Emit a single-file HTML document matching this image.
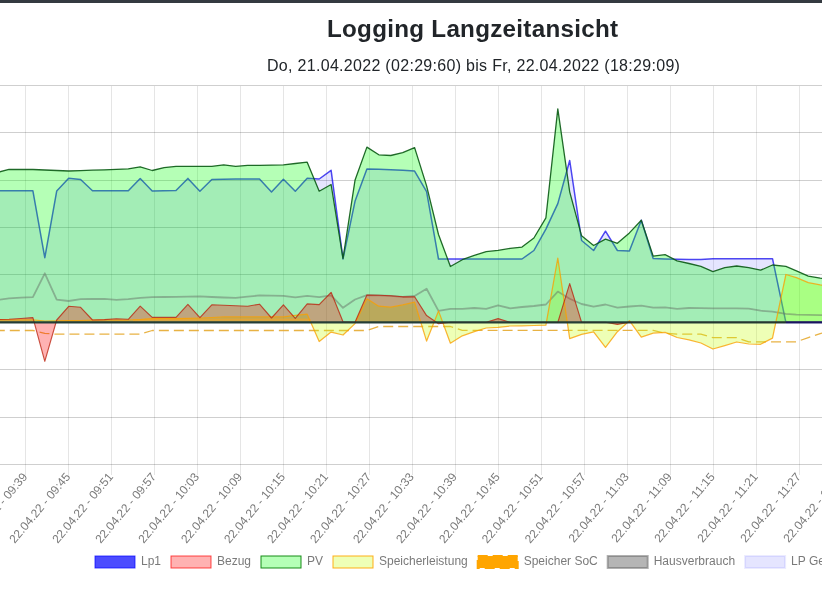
<!DOCTYPE html>
<html><head><meta charset="utf-8"><title>Logging Langzeitansicht</title>
<style>
html,body{margin:0;padding:0;background:#fff;overflow:hidden;}
body{width:822px;height:596px;position:relative;font-family:"Liberation Sans",sans-serif;}
#topbar{position:absolute;left:0;top:0;width:822px;height:3px;background:#343a40;}
#title{position:absolute;left:327px;top:14.5px;font-size:24.2px;font-weight:bold;letter-spacing:0.28px;color:#212529;white-space:nowrap;line-height:28px;}
#sub{position:absolute;left:266.8px;top:56.6px;font-size:16px;letter-spacing:0.3px;color:#212529;white-space:nowrap;line-height:18px;}
svg{position:absolute;left:0;top:0;will-change:transform;}
#title,#sub{will-change:transform;}
</style></head><body>
<div id="topbar"></div>
<div id="title">Logging Langzeitansicht</div>
<div id="sub">Do, 21.04.2022 (02:29:60) bis Fr, 22.04.2022 (18:29:09)</div>
<svg width="822" height="596" viewBox="0 0 822 596">
<g stroke="rgba(0,0,0,0.1)" stroke-width="1" shape-rendering="crispEdges">
<line x1="0" x2="822" y1="85.5" y2="85.5" stroke="rgba(0,0,0,0.19)"/>
<line x1="0" x2="822" y1="132.5" y2="132.5" stroke="rgba(0,0,0,0.19)"/>
<line x1="0" x2="822" y1="180.5" y2="180.5" stroke="rgba(0,0,0,0.19)"/>
<line x1="0" x2="822" y1="227.5" y2="227.5" stroke="rgba(0,0,0,0.19)"/>
<line x1="0" x2="822" y1="274.5" y2="274.5" stroke="rgba(0,0,0,0.19)"/>
<line x1="0" x2="822" y1="322.5" y2="322.5" stroke="rgba(0,0,0,0.19)"/>
<line x1="0" x2="822" y1="369.5" y2="369.5" stroke="rgba(0,0,0,0.19)"/>
<line x1="0" x2="822" y1="417.5" y2="417.5" stroke="rgba(0,0,0,0.19)"/>
<line x1="0" x2="822" y1="464.5" y2="464.5" stroke="rgba(0,0,0,0.19)"/>
<line x1="-17.5" x2="-17.5" y1="85.5" y2="474.5"/>
<line x1="25.5" x2="25.5" y1="85.5" y2="474.5"/>
<line x1="68.5" x2="68.5" y1="85.5" y2="474.5"/>
<line x1="111.4" x2="111.4" y1="85.5" y2="474.5"/>
<line x1="154.4" x2="154.4" y1="85.5" y2="474.5"/>
<line x1="197.4" x2="197.4" y1="85.5" y2="474.5"/>
<line x1="240.3" x2="240.3" y1="85.5" y2="474.5"/>
<line x1="283.3" x2="283.3" y1="85.5" y2="474.5"/>
<line x1="326.3" x2="326.3" y1="85.5" y2="474.5"/>
<line x1="369.3" x2="369.3" y1="85.5" y2="474.5"/>
<line x1="412.2" x2="412.2" y1="85.5" y2="474.5"/>
<line x1="455.2" x2="455.2" y1="85.5" y2="474.5"/>
<line x1="498.2" x2="498.2" y1="85.5" y2="474.5"/>
<line x1="541.1" x2="541.1" y1="85.5" y2="474.5"/>
<line x1="584.1" x2="584.1" y1="85.5" y2="474.5"/>
<line x1="627.1" x2="627.1" y1="85.5" y2="474.5"/>
<line x1="670.0" x2="670.0" y1="85.5" y2="474.5"/>
<line x1="713.0" x2="713.0" y1="85.5" y2="474.5"/>
<line x1="756.0" x2="756.0" y1="85.5" y2="474.5"/>
<line x1="799.0" x2="799.0" y1="85.5" y2="474.5"/>
<line x1="841.9" x2="841.9" y1="85.5" y2="474.5"/>
</g>
<g fill="none" stroke-linejoin="round">
<polygon points="-2.9,322.3 -2.9,190.8 9.0,190.8 20.9,190.8 32.9,190.8 44.8,257.7 56.7,191.1 68.7,178.2 80.6,179.5 92.5,190.8 104.4,190.8 116.4,190.8 128.3,190.8 140.2,178.5 152.2,191.1 164.1,190.8 176.0,190.6 187.9,178.4 199.9,191.3 211.8,179.5 223.7,179.3 235.7,179.1 247.6,178.9 259.5,178.9 271.5,192.0 283.4,179.2 295.3,191.2 307.2,178.3 319.2,179.0 331.1,170.3 343.0,258.9 355.0,201.3 366.9,168.9 378.8,169.3 390.8,169.7 402.7,170.3 414.6,171.1 426.6,191.7 438.5,259.0 450.4,259.0 462.3,259.0 474.3,259.0 486.2,259.0 498.1,259.0 510.1,259.0 522.0,259.0 533.9,250.5 545.9,229.1 557.8,203.6 569.7,160.5 581.6,240.5 593.6,250.5 605.5,231.2 617.4,250.5 629.4,251.0 641.3,220.3 653.2,258.6 665.1,258.9 677.1,259.2 689.0,259.5 700.9,259.5 712.9,258.7 724.8,258.7 736.7,258.7 748.7,258.7 760.6,258.7 772.5,258.7 785.9,322.3 796.4,322.3 808.3,322.3 820.2,322.3 832.2,322.3 832.2,322.3" fill="rgba(0,0,255,0.1)"/>
<polyline points="-2.9,190.8 9.0,190.8 20.9,190.8 32.9,190.8 44.8,257.7 56.7,191.1 68.7,178.2 80.6,179.5 92.5,190.8 104.4,190.8 116.4,190.8 128.3,190.8 140.2,178.5 152.2,191.1 164.1,190.8 176.0,190.6 187.9,178.4 199.9,191.3 211.8,179.5 223.7,179.3 235.7,179.1 247.6,178.9 259.5,178.9 271.5,192.0 283.4,179.2 295.3,191.2 307.2,178.3 319.2,179.0 331.1,170.3 343.0,258.9 355.0,201.3 366.9,168.9 378.8,169.3 390.8,169.7 402.7,170.3 414.6,171.1 426.6,191.7 438.5,259.0 450.4,259.0 462.3,259.0 474.3,259.0 486.2,259.0 498.1,259.0 510.1,259.0 522.0,259.0 533.9,250.5 545.9,229.1 557.8,203.6 569.7,160.5 581.6,240.5 593.6,250.5 605.5,231.2 617.4,250.5 629.4,251.0 641.3,220.3 653.2,258.6 665.1,258.9 677.1,259.2 689.0,259.5 700.9,259.5 712.9,258.7 724.8,258.7 736.7,258.7 748.7,258.7 760.6,258.7 772.5,258.7 785.9,322.3 796.4,322.3 808.3,322.3 820.2,322.3 832.2,322.3" stroke="rgba(10,0,235,0.72)" stroke-width="1.5"/>
<polyline points="-2.9,330.5 9.0,330.5 20.9,330.5 32.9,330.5 44.8,333.4 56.7,334.2 68.7,334.2 80.6,334.2 92.5,334.2 104.4,334.2 116.4,334.2 128.3,334.2 140.2,334.2 152.2,330.5 164.1,330.5 176.0,330.5 187.9,330.5 199.9,330.5 211.8,330.5 223.7,330.5 235.7,330.5 247.6,330.5 259.5,330.5 271.5,330.5 283.4,330.5 295.3,330.5 307.2,330.5 319.2,330.5 331.1,330.5 343.0,330.5 355.0,330.5 366.9,330.5 378.8,326.5 390.8,326.5 402.7,326.5 414.6,326.5 426.6,326.5 438.5,326.5 450.4,326.5 462.3,330.4 474.3,330.4 486.2,330.4 498.1,330.4 510.1,330.4 522.0,330.4 533.9,330.4 545.9,330.4 557.8,330.4 569.7,330.4 581.6,330.4 593.6,330.4 605.5,330.4 617.4,330.4 629.4,330.4 641.3,330.4 653.2,330.4 665.1,333.2 677.1,334.2 689.0,334.2 700.9,334.2 712.9,337.6 724.8,337.6 736.7,337.6 748.7,341.8 760.6,341.8 772.5,341.8 785.9,341.8 796.4,341.8 808.3,337.6 820.2,333.6 832.2,330.0" stroke="rgba(228,165,35,0.85)" stroke-width="1.3" stroke-dasharray="10 5" stroke-dashoffset="2.3"/>
<polygon points="-2.9,322.3 -2.9,320.0 9.0,319.9 20.9,319.9 32.9,319.9 44.8,321.0 56.7,320.8 68.7,320.5 80.6,320.5 92.5,320.2 104.4,320.0 116.4,320.0 128.3,320.0 140.2,319.5 152.2,318.6 164.1,318.5 176.0,318.5 187.9,318.3 199.9,318.0 211.8,317.5 223.7,316.9 235.7,316.9 247.6,316.9 259.5,316.9 271.5,316.9 283.4,316.9 295.3,315.3 307.2,314.2 319.2,341.5 331.1,332.1 343.0,335.0 355.0,323.6 366.9,298.8 378.8,306.2 390.8,307.2 402.7,304.9 414.6,302.2 426.6,341.1 438.5,310.9 450.4,343.2 462.3,335.8 474.3,331.7 486.2,328.0 498.1,327.4 510.1,326.0 522.0,325.8 533.9,325.5 545.9,325.2 557.8,258.1 569.7,338.6 581.6,334.4 593.6,331.9 605.5,347.4 617.4,331.7 629.4,320.7 641.3,337.1 653.2,333.1 665.1,332.4 677.1,337.5 689.0,339.8 700.9,343.0 712.9,349.0 724.8,345.6 736.7,342.0 748.7,344.0 760.6,344.3 772.5,338.1 785.9,274.5 796.4,277.7 808.3,282.7 820.2,284.9 832.2,286.0 832.2,322.3" fill="rgba(200,255,13,0.3)"/>
<polygon points="-2.9,322.3 -2.9,172.5 9.0,169.3 20.9,169.5 32.9,169.5 44.8,170.0 56.7,170.5 68.7,171.0 80.6,170.6 92.5,170.2 104.4,169.8 116.4,169.3 128.3,168.8 140.2,166.8 152.2,170.5 164.1,167.6 176.0,166.3 187.9,166.3 199.9,166.3 211.8,166.3 223.7,164.8 235.7,166.3 247.6,165.4 259.5,165.3 271.5,165.1 283.4,164.9 295.3,163.5 307.2,162.2 319.2,191.2 331.1,184.5 343.0,258.5 355.0,180.3 366.9,147.1 378.8,154.8 390.8,155.5 402.7,152.7 414.6,147.6 426.6,185.9 438.5,234.5 450.4,266.5 462.3,259.7 474.3,255.4 486.2,251.7 498.1,250.4 510.1,248.4 522.0,247.1 533.9,238.0 545.9,217.8 557.8,108.9 569.7,191.8 581.6,235.8 593.6,245.5 605.5,239.1 617.4,243.3 629.4,232.9 641.3,220.3 653.2,256.1 665.1,254.7 677.1,260.8 689.0,263.5 700.9,266.4 712.9,271.7 724.8,267.7 736.7,266.0 748.7,267.7 760.6,270.2 772.5,265.0 785.9,266.4 796.4,270.8 808.3,276.1 820.2,278.2 832.2,279.5 832.2,322.3" fill="rgba(10,255,13,0.3)"/>
<polyline points="-2.9,300.0 9.0,298.3 20.9,297.6 32.9,297.2 44.8,273.3 56.7,299.6 68.7,301.0 80.6,299.2 92.5,299.0 104.4,298.8 116.4,299.8 128.3,299.2 140.2,297.9 152.2,297.2 164.1,297.0 176.0,296.8 187.9,296.6 199.9,296.4 211.8,297.0 223.7,297.5 235.7,297.9 247.6,296.7 259.5,295.4 271.5,295.6 283.4,295.8 295.3,297.4 307.2,295.8 319.2,297.2 331.1,295.4 343.0,307.8 355.0,299.5 366.9,295.1 378.8,295.3 390.8,295.9 402.7,296.8 414.6,296.0 426.6,288.8 438.5,310.9 450.4,308.9 462.3,308.9 474.3,308.0 486.2,308.9 498.1,305.3 510.1,308.3 522.0,307.0 533.9,306.0 545.9,304.5 557.8,291.6 569.7,298.7 581.6,304.0 593.6,306.7 605.5,304.5 617.4,307.6 629.4,306.5 641.3,305.6 653.2,307.6 665.1,307.3 677.1,308.9 689.0,308.0 700.9,308.2 712.9,308.3 724.8,308.3 736.7,308.4 748.7,308.7 760.6,310.7 772.5,311.7 785.9,313.8 796.4,314.6 808.3,314.9 820.2,315.1 832.2,315.3" stroke="rgba(100,110,100,0.48)" stroke-width="1.8"/>
<polygon points="-2.9,322.3 -2.9,319.6 9.0,319.2 20.9,318.5 32.9,317.6 44.8,361.3 56.7,320.0 68.7,306.3 80.6,307.3 92.5,320.0 104.4,319.6 116.4,318.7 128.3,319.3 140.2,306.2 152.2,317.3 164.1,317.3 176.0,317.3 187.9,304.4 199.9,317.6 211.8,304.8 223.7,305.3 235.7,305.8 247.6,306.2 259.5,304.2 271.5,318.0 283.4,304.8 295.3,318.3 307.2,303.9 319.2,304.6 331.1,292.3 343.0,321.8 355.0,322.3 366.9,295.0 378.8,295.2 390.8,295.8 402.7,296.8 414.6,296.8 426.6,315.6 438.5,323.7 450.4,322.3 462.3,322.3 474.3,322.3 486.2,322.3 498.1,318.6 510.1,322.3 522.0,322.3 533.9,322.3 545.9,322.3 557.8,322.3 569.7,283.6 581.6,322.3 593.6,322.3 605.5,322.3 617.4,324.4 629.4,322.3 641.3,322.3 653.2,322.3 665.1,322.3 677.1,322.3 689.0,322.3 700.9,322.3 712.9,322.3 724.8,322.3 736.7,322.3 748.7,322.3 760.6,322.3 772.5,322.3 785.9,322.3 796.4,322.3 808.3,322.3 820.2,322.3 832.2,322.3 832.2,322.3" fill="rgba(255,0,0,0.3)"/>
<polyline points="133.1,320.5 147.4,319.7 307.2,319.7 310.2,320.6" stroke="rgba(232,165,50,0.85)" stroke-width="2.2"/>
<polyline points="-2.9,320.0 9.0,319.9 20.9,319.9 32.9,319.9 44.8,321.0 56.7,320.8 68.7,320.5 80.6,320.5 92.5,320.2 104.4,320.0 116.4,320.0 128.3,320.0 140.2,319.5 152.2,318.6 164.1,318.5 176.0,318.5 187.9,318.3 199.9,318.0 211.8,317.5 223.7,316.9 235.7,316.9 247.6,316.9 259.5,316.9 271.5,316.9 283.4,316.9 295.3,315.3 307.2,314.2 319.2,341.5 331.1,332.1 343.0,335.0 355.0,323.6 366.9,298.8 378.8,306.2 390.8,307.2 402.7,304.9 414.6,302.2 426.6,341.1 438.5,310.9 450.4,343.2 462.3,335.8 474.3,331.7 486.2,328.0 498.1,327.4 510.1,326.0 522.0,325.8 533.9,325.5 545.9,325.2 557.8,258.1 569.7,338.6 581.6,334.4 593.6,331.9 605.5,347.4 617.4,331.7 629.4,320.7 641.3,337.1 653.2,333.1 665.1,332.4 677.1,337.5 689.0,339.8 700.9,343.0 712.9,349.0 724.8,345.6 736.7,342.0 748.7,344.0 760.6,344.3 772.5,338.1 785.9,274.5 796.4,277.7 808.3,282.7 820.2,284.9 832.2,286.0" stroke="rgba(250,160,0,0.78)" stroke-width="1.25"/>
<polyline points="-2.9,172.5 9.0,169.3 20.9,169.5 32.9,169.5 44.8,170.0 56.7,170.5 68.7,171.0 80.6,170.6 92.5,170.2 104.4,169.8 116.4,169.3 128.3,168.8 140.2,166.8 152.2,170.5 164.1,167.6 176.0,166.3 187.9,166.3 199.9,166.3 211.8,166.3 223.7,164.8 235.7,166.3 247.6,165.4 259.5,165.3 271.5,165.1 283.4,164.9 295.3,163.5 307.2,162.2 319.2,191.2 331.1,184.5 343.0,258.5 355.0,180.3 366.9,147.1 378.8,154.8 390.8,155.5 402.7,152.7 414.6,147.6 426.6,185.9 438.5,234.5 450.4,266.5 462.3,259.7 474.3,255.4 486.2,251.7 498.1,250.4 510.1,248.4 522.0,247.1 533.9,238.0 545.9,217.8 557.8,108.9 569.7,191.8 581.6,235.8 593.6,245.5 605.5,239.1 617.4,243.3 629.4,232.9 641.3,220.3 653.2,256.1 665.1,254.7 677.1,260.8 689.0,263.5 700.9,266.4 712.9,271.7 724.8,267.7 736.7,266.0 748.7,267.7 760.6,270.2 772.5,265.0 785.9,266.4 796.4,270.8 808.3,276.1 820.2,278.2 832.2,279.5" stroke="rgba(10,90,20,0.9)" stroke-width="1.3"/>
<polyline points="-2.9,319.6 9.0,319.2 20.9,318.5 32.9,317.6 44.8,361.3 56.7,320.0 68.7,306.3 80.6,307.3 92.5,320.0 104.4,319.6 116.4,318.7 128.3,319.3 140.2,306.2 152.2,317.3 164.1,317.3 176.0,317.3 187.9,304.4 199.9,317.6 211.8,304.8 223.7,305.3 235.7,305.8 247.6,306.2 259.5,304.2 271.5,318.0 283.4,304.8 295.3,318.3 307.2,303.9 319.2,304.6 331.1,292.3 343.0,321.8 355.0,322.3 366.9,295.0 378.8,295.2 390.8,295.8 402.7,296.8 414.6,296.8 426.6,315.6 438.5,323.7 450.4,322.3 462.3,322.3 474.3,322.3 486.2,322.3 498.1,318.6 510.1,322.3 522.0,322.3 533.9,322.3 545.9,322.3 557.8,322.3 569.7,283.6 581.6,322.3 593.6,322.3 605.5,322.3 617.4,324.4 629.4,322.3 641.3,322.3 653.2,322.3 665.1,322.3 677.1,322.3 689.0,322.3 700.9,322.3 712.9,322.3 724.8,322.3 736.7,322.3 748.7,322.3 760.6,322.3 772.5,322.3 785.9,322.3 796.4,322.3 808.3,322.3 820.2,322.3 832.2,322.3" stroke="rgba(185,30,10,0.75)" stroke-width="1.15"/>
<line x1="0" x2="785.9" y1="322.40000000000003" y2="322.40000000000003" stroke="rgba(28,55,50,0.95)" stroke-width="2.4"/>
<line x1="785.9" x2="822" y1="322.40000000000003" y2="322.40000000000003" stroke="rgba(20,20,100,0.95)" stroke-width="2.4"/>
</g>
<g font-size="12" fill="#7a7a7a" font-family="Liberation Sans, sans-serif">
<text transform="translate(-17.5,475) rotate(-50)" text-anchor="end" dominant-baseline="middle">22.04.22 - 09:33</text>
<text transform="translate(25.5,475) rotate(-50)" text-anchor="end" dominant-baseline="middle">22.04.22 - 09:39</text>
<text transform="translate(68.5,475) rotate(-50)" text-anchor="end" dominant-baseline="middle">22.04.22 - 09:45</text>
<text transform="translate(111.4,475) rotate(-50)" text-anchor="end" dominant-baseline="middle">22.04.22 - 09:51</text>
<text transform="translate(154.4,475) rotate(-50)" text-anchor="end" dominant-baseline="middle">22.04.22 - 09:57</text>
<text transform="translate(197.4,475) rotate(-50)" text-anchor="end" dominant-baseline="middle">22.04.22 - 10:03</text>
<text transform="translate(240.3,475) rotate(-50)" text-anchor="end" dominant-baseline="middle">22.04.22 - 10:09</text>
<text transform="translate(283.3,475) rotate(-50)" text-anchor="end" dominant-baseline="middle">22.04.22 - 10:15</text>
<text transform="translate(326.3,475) rotate(-50)" text-anchor="end" dominant-baseline="middle">22.04.22 - 10:21</text>
<text transform="translate(369.3,475) rotate(-50)" text-anchor="end" dominant-baseline="middle">22.04.22 - 10:27</text>
<text transform="translate(412.2,475) rotate(-50)" text-anchor="end" dominant-baseline="middle">22.04.22 - 10:33</text>
<text transform="translate(455.2,475) rotate(-50)" text-anchor="end" dominant-baseline="middle">22.04.22 - 10:39</text>
<text transform="translate(498.2,475) rotate(-50)" text-anchor="end" dominant-baseline="middle">22.04.22 - 10:45</text>
<text transform="translate(541.1,475) rotate(-50)" text-anchor="end" dominant-baseline="middle">22.04.22 - 10:51</text>
<text transform="translate(584.1,475) rotate(-50)" text-anchor="end" dominant-baseline="middle">22.04.22 - 10:57</text>
<text transform="translate(627.1,475) rotate(-50)" text-anchor="end" dominant-baseline="middle">22.04.22 - 11:03</text>
<text transform="translate(670.0,475) rotate(-50)" text-anchor="end" dominant-baseline="middle">22.04.22 - 11:09</text>
<text transform="translate(713.0,475) rotate(-50)" text-anchor="end" dominant-baseline="middle">22.04.22 - 11:15</text>
<text transform="translate(756.0,475) rotate(-50)" text-anchor="end" dominant-baseline="middle">22.04.22 - 11:21</text>
<text transform="translate(799.0,475) rotate(-50)" text-anchor="end" dominant-baseline="middle">22.04.22 - 11:27</text>
<text transform="translate(841.9,475) rotate(-50)" text-anchor="end" dominant-baseline="middle">22.04.22 - 11:33</text>
<rect x="95.0" y="556" width="40" height="12" fill="rgba(0,0,255,0.7)" stroke="rgba(0,0,255,0.7)" stroke-width="1"/>
<text x="141.0" y="565.4">Lp1</text>
<rect x="171.0" y="556" width="40" height="12" fill="rgba(255,0,0,0.3)" stroke="rgba(255,0,0,0.7)" stroke-width="1"/>
<text x="217.0" y="565.4">Bezug</text>
<rect x="261.0" y="556" width="40" height="12" fill="rgba(10,255,13,0.3)" stroke="rgba(0,128,0,0.9)" stroke-width="1"/>
<text x="307.0" y="565.4">PV</text>
<rect x="333.0" y="556" width="40" height="12" fill="rgba(200,255,13,0.3)" stroke="rgba(255,165,0,0.9)" stroke-width="1"/>
<text x="379.0" y="565.4">Speicherleistung</text>
<rect x="477.7" y="556" width="40" height="12" fill="orange" stroke="orange" stroke-width="2" stroke-dasharray="10 5"/>
<text x="523.7" y="565.4">Speicher SoC</text>
<rect x="607.7" y="556" width="40" height="12" fill="rgba(150,150,150,0.7)" stroke="rgba(100,100,100,0.5)" stroke-width="2"/>
<text x="653.7" y="565.4">Hausverbrauch</text>
<rect x="745.1" y="556" width="40" height="12" fill="rgba(0,0,255,0.1)" stroke="rgba(0,0,255,0.08)" stroke-width="2"/>
<text x="791.1" y="565.4">LP Gesamt</text>
</g>
</svg>
</body></html>
